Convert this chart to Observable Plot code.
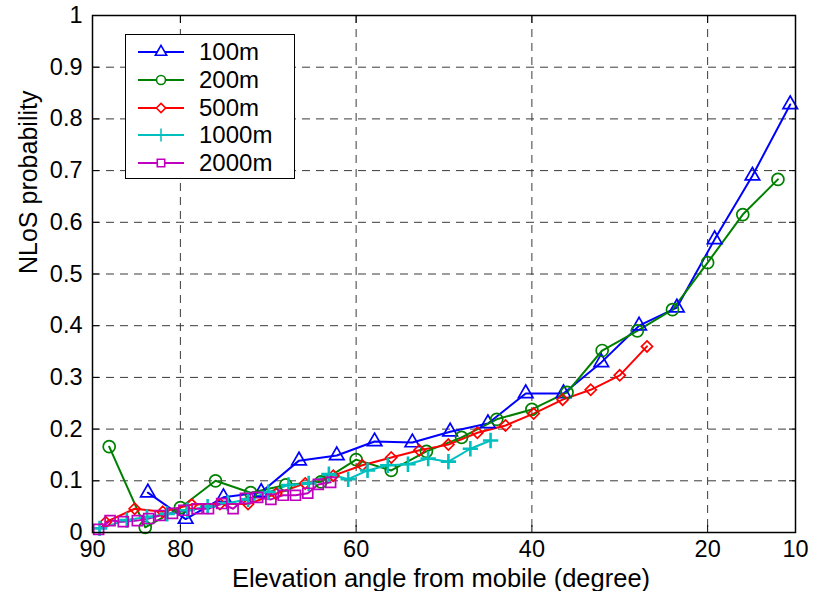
<!DOCTYPE html>
<html>
<head>
<meta charset="utf-8">
<script src="https://cdn.jsdelivr.net/npm/d3@7"></script>
<script src="https://cdn.jsdelivr.net/npm/@observablehq/plot@0.6"></script>
<style>
  html, body { margin: 0; padding: 0; background: #fff; }
  #wrap { position: relative; width: 821px; height: 591px; font-family: "Liberation Sans", Arial, sans-serif; }
  #legend { position: absolute; left: 125px; top: 34px; width: 170px; height: 145px; border: 1px solid #000; background: #fff; box-sizing: border-box; }
  .row { position: absolute; left: 0; height: 28px; display: flex; align-items: center; }
  .row svg { display: block; margin-left: 11px; }
  .row span { font-size: 24px; margin-left: 14px; line-height: 28px; color: #000; }
</style>
</head>
<body>
<div id="wrap"><div id="chart"></div><div id="legend"></div></div>
<script>
// ---- data ----
const seriesNames = ["100m", "200m", "500m", "1000m", "2000m"];
const seriesColors = ["#0000ff", "#008000", "#ff0000", "#00bfbf", "#bf00bf"];
const seriesSymbols = ["triangle", "circle", "diamond2", "plus", "square"];

const deg100 = [83.7, 79.4, 75.1, 70.8, 66.5, 62.2, 57.9, 53.6, 49.3, 45.0, 40.7, 36.4, 32.1, 27.8, 23.5, 19.2, 14.9, 10.6];
const p100   = [0.077, 0.026, 0.068, 0.078, 0.139, 0.149, 0.176, 0.174, 0.195, 0.211, 0.269, 0.269, 0.329, 0.400, 0.435, 0.567, 0.690, 0.828];

const deg200 = [88.1, 84.0, 80.0, 76.0, 72.0, 68.0, 64.0, 60.0, 56.0, 52.0, 48.0, 44.0, 40.0, 36.0, 32.0, 28.0, 24.0, 20.0, 16.0, 12.0];
const p200   = [0.166, 0.010, 0.048, 0.100, 0.077, 0.092, 0.098, 0.141, 0.120, 0.157, 0.184, 0.219, 0.238, 0.271, 0.352, 0.390, 0.431, 0.522, 0.615, 0.683];

const deg500 = [88.5, 85.2, 82.0, 78.7, 75.5, 72.3, 69.1, 65.8, 62.6, 59.3, 56.0, 52.8, 49.5, 46.2, 43.0, 39.8, 36.5, 33.3, 30.0, 26.9];
const p500   = [0.020, 0.046, 0.040, 0.054, 0.055, 0.055, 0.075, 0.095, 0.110, 0.130, 0.145, 0.159, 0.170, 0.193, 0.207, 0.230, 0.257, 0.276, 0.304, 0.360];

const deg1000 = [89.2, 86.1, 83.8, 81.5, 79.2, 76.9, 74.6, 72.3, 70.0, 67.7, 65.4, 63.1, 60.9, 58.7, 56.4, 54.1, 51.8, 49.5, 47.0, 44.7];
const p1000   = [0.008, 0.024, 0.030, 0.036, 0.043, 0.050, 0.057, 0.064, 0.078, 0.092, 0.095, 0.113, 0.103, 0.120, 0.130, 0.132, 0.143, 0.137, 0.162, 0.178];

const deg2000 = [89.3, 88.0, 86.5, 84.9, 83.6, 82.3, 80.9, 79.6, 78.1, 76.8, 75.3, 74.0, 72.6, 71.2, 69.7, 68.3, 66.9, 65.5, 64.3, 62.9];
const p2000   = [0.006, 0.023, 0.021, 0.023, 0.027, 0.033, 0.037, 0.043, 0.046, 0.046, 0.056, 0.046, 0.066, 0.068, 0.064, 0.072, 0.072, 0.076, 0.093, 0.097];

const xTicks = [90, 80, 60, 40, 20, 10];
const yTicks = [0, 0.1, 0.2, 0.3, 0.4, 0.5, 0.6, 0.7, 0.8, 0.9, 1];
const xLabel = "Elevation angle from mobile (degree)";
const yLabel = "NLoS probability";

// ---- build table ----
const degs = [deg100, deg200, deg500, deg1000, deg2000];
const probs = [p100, p200, p500, p1000, p2000];
const series = seriesNames.map((name, i) => ({
  name, color: seriesColors[i], symbol: seriesSymbols[i],
  data: degs[i].map((d, j) => ({deg: d, p: probs[i][j], s: name}))
}));

const gridStyle = {stroke: "#3a3a3a", strokeWidth: 1, strokeDasharray: "8,6", strokeOpacity: 1};
const marks = [
  Plot.gridX(xTicks.filter(d => d !== 90 && d !== 10), gridStyle),
  Plot.gridY(yTicks.filter(d => d !== 0 && d !== 1), gridStyle),
  Plot.axisX(xTicks, {anchor: "bottom", tickSize: 0, tickPadding: 8, label: null, tickFormat: d => String(d), fontSize: 23.5}),
  Plot.axisX(xTicks, {anchor: "bottom", tickSize: -7, tickFormat: () => "", label: null}),
  Plot.axisX(xTicks, {anchor: "top", tickSize: -7, tickFormat: () => "", label: null}),
  Plot.axisY(yTicks, {anchor: "left", tickSize: 0, tickPadding: 10, label: null, tickFormat: d => String(d), fontSize: 23.5}),
  Plot.axisY(yTicks, {anchor: "left", tickSize: -7, tickFormat: () => "", label: null}),
  Plot.axisY(yTicks, {anchor: "right", tickSize: -7, tickFormat: () => "", label: null})
];
for (const s of series) {
  marks.push(Plot.line(s.data, {x: "deg", y: "p", stroke: s.color, strokeWidth: 2}));
}
for (const s of series) {
  const isStroke = s.symbol === "plus";
  marks.push(Plot.dot(s.data, {
    x: "deg", y: "p", symbol: () => s.symbol,
    r: s.symbol === "circle" ? 6 : s.symbol === "square" ? 5.6 : s.symbol === "triangle" ? 5.4 : 5,
    stroke: s.color, fill: "none", strokeWidth: isStroke ? 2.6 : 1.7
  }));
}
marks.push(Plot.frame({stroke: "#000", strokeWidth: 1.5}));
marks.push(Plot.text([yLabel], {frameAnchor: "left", dx: -64, rotate: -90, fontSize: 25, fill: "#000"}));
marks.push(Plot.text([xLabel], {frameAnchor: "bottom", dy: 46, dx: -3, lineAnchor: "middle", fontSize: 25.5, fill: "#000"}));

const chart = Plot.plot({
  width: 821, height: 591,
  marginLeft: 92, marginRight: 26, marginTop: 15, marginBottom: 59,
  style: {fontFamily: "'Liberation Sans', Arial, sans-serif", fontSize: "23px", background: "#fff", color: "#000", overflow: "visible"},
  x: {domain: [90, 10], ticks: xTicks},
  y: {domain: [0, 1], ticks: yTicks},
  marks
});
document.getElementById("chart").appendChild(chart);

// ---- legend ----
const legend = document.getElementById("legend");
series.forEach((s, i) => {
  const row = document.createElement("div");
  row.className = "row";
  row.style.top = (3 + i * 27.8) + "px";
  const svg = d3.create("svg").attr("width", 48).attr("height", 20);
  svg.append("line").attr("x1", 1).attr("x2", 47).attr("y1", 10).attr("y2", 10)
    .attr("stroke", s.color).attr("stroke-width", 2);
  const sym = {triangle: d3.symbolTriangle, circle: d3.symbolCircle, diamond2: d3.symbolDiamond2, plus: d3.symbolPlus, square: d3.symbolSquare}[s.symbol];
  const r = s.symbol === "circle" ? 4.5 : 4.2;
  svg.append("path").attr("d", d3.symbol(sym, Math.PI * r * r)())
    .attr("transform", "translate(24,10)")
    .attr("fill", s.symbol === "plus" ? s.color : "#fff")
    .attr("stroke", s.color).attr("stroke-width", s.symbol === "plus" ? 1.5 : 1.6);
  row.appendChild(svg.node());
  const span = document.createElement("span");
  span.textContent = s.name;
  row.appendChild(span);
  legend.appendChild(row);
});
</script>
</body>
</html>
